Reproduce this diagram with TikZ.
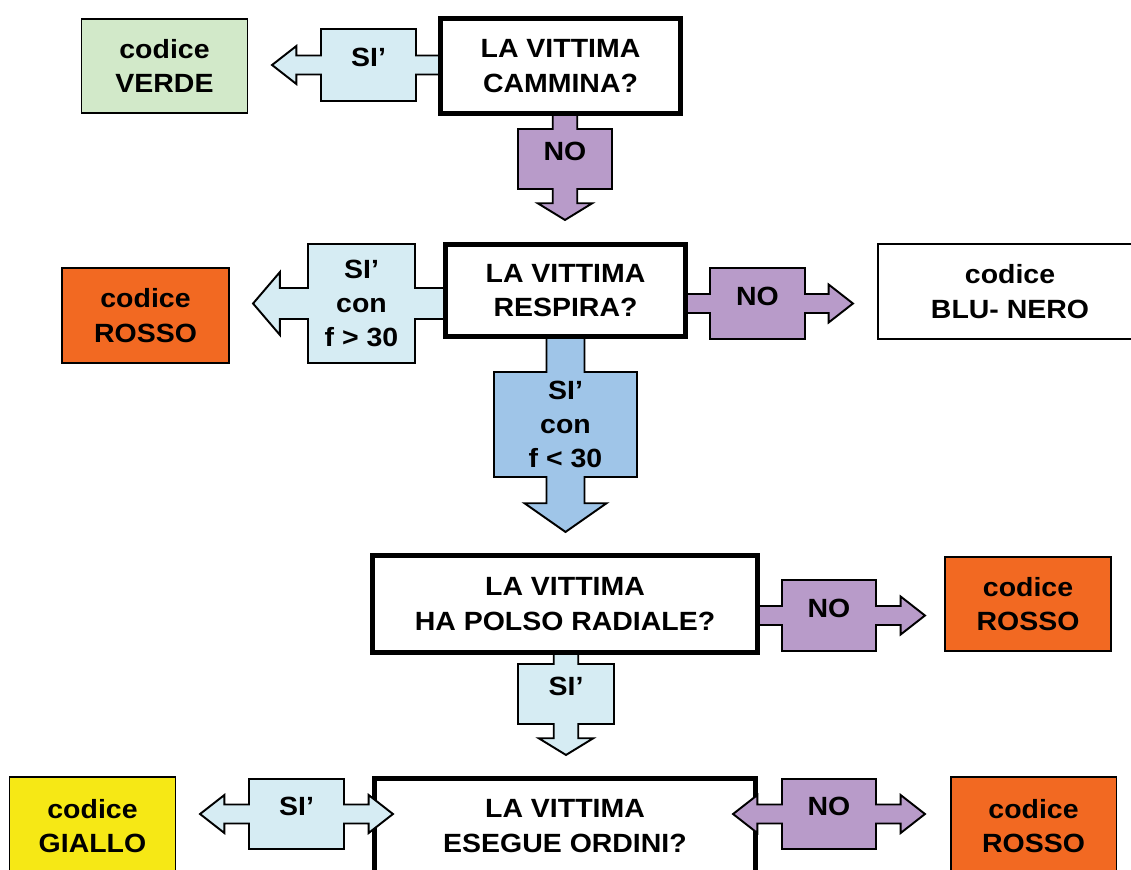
\documentclass[tikz,border=0pt]{standalone}
\usepackage{fontspec}
\setmainfont{Liberation Sans}[FakeStretch=1.08]
\usetikzlibrary{shapes.arrows}

\definecolor{siblue}{HTML}{D6ECF3}
\definecolor{nopurple}{HTML}{B89BC9}
\definecolor{midblue}{HTML}{9FC5E8}
\definecolor{codegreen}{HTML}{D2E9C9}
\definecolor{codered}{HTML}{F26922}
\definecolor{codeyellow}{HTML}{F6E815}

\tikzset{
  question/.style={draw, line width=2.85pt, fill=white, inner sep=0pt, align=center,
    minimum width=4.8cm, minimum height=1.9cm},
  code/.style={draw, line width=1.1pt, inner sep=0pt, align=center,
    minimum width=3.32cm, minimum height=1.88cm},
  answer/.style={arrow box, draw, line width=1.1pt, inner sep=0pt, align=center},
  lift/.style={text depth=0.3cm},
  slim/.style={arrow box shaft width=0.38cm, arrow box head extend=0.19cm, arrow box tip angle=76},
  stubby/.style={arrow box shaft width=0.49cm, arrow box head extend=0.3cm, arrow box tip angle=117},
}

\begin{document}
\begin{tikzpicture}[x=0.02cm, y=-0.02cm, every node/.style={font=\bfseries\fontsize{15}{19.5}\selectfont}]
  \path[use as bounding box, clip] (0, 0) rectangle (1131, 869);

  \node[code, fill=codegreen] (verde) at (164.5, 66) {codice\\VERDE};
  \node[code, fill=codered, minimum width=3.34cm, minimum height=1.9cm] (rosso1) at (145.5, 315.5) {codice\\ROSSO};
  \node[code, fill=white, minimum width=5.28cm, minimum height=1.9cm] (blunero) at (1010, 291.5) {codice\\BLU- NERO};
  \node[code, fill=codered] (rosso2) at (1028, 604) {codice\\ROSSO};
  \node[code, fill=codeyellow, minimum height=1.96cm] (giallo) at (92.5, 826) {codice\\GIALLO};
  \node[code, fill=codered, minimum height=1.96cm] (rosso3) at (1033.5, 826) {codice\\ROSSO};

  \node[answer, slim, lift, fill=siblue, minimum width=1.9cm, minimum height=1.44cm,
    arrow box arrows={west:0.96cm, east:1.06cm}] (si1) at (368.5, 65) {SI’};
  \node[answer, stubby, lift, fill=nopurple, minimum width=1.88cm, minimum height=1.2cm,
    arrow box arrows={south:0.6cm, north:0.96cm}] (no1) at (565, 159) {NO};
  \node[answer, fill=siblue, minimum width=2.14cm, minimum height=2.38cm,
    arrow box shaft width=0.62cm, arrow box head extend=0.32cm, arrow box tip angle=99,
    arrow box arrows={west:1.08cm, east:1.68cm}] (si2) at (361.5, 303.5) {SI’\\con\\f > 30};
  \node[answer, slim, lift, fill=nopurple, minimum width=1.9cm, minimum height=1.42cm,
    arrow box arrows={east:0.94cm, west:1.38cm}] (no2) at (757.5, 303.5) {NO};
  \node[answer, fill=midblue, minimum width=2.86cm, minimum height=2.1cm,
    arrow box shaft width=0.76cm, arrow box head extend=0.44cm, arrow box tip angle=110,
    arrow box arrows={south:1.08cm, north:1.62cm}] (si3) at (565.5, 424.5) {SI’\\con\\f < 30};
  \node[answer, stubby, lift, fill=siblue, minimum width=1.92cm, minimum height=1.2cm,
    arrow box arrows={south:0.6cm, north:1.06cm}] (si4) at (566, 694) {SI’};
  \node[answer, slim, lift, fill=nopurple, minimum width=1.88cm, minimum height=1.42cm,
    arrow box arrows={east:0.96cm, west:1.22cm}] (no3) at (829, 615.5) {NO};

  \node[question] (cammina) at (560.5, 66) {LA VITTIMA\\CAMMINA?};
  \node[question, minimum height=1.84cm] (respira) at (565.5, 290.5) {LA VITTIMA\\RESPIRA?};
  \node[question, minimum width=7.7cm, minimum height=1.94cm] (polso) at (565, 604) {LA VITTIMA\\HA POLSO RADIALE?};
  \node[question, minimum width=7.62cm] (ordini) at (565, 826) {LA VITTIMA\\ESEGUE ORDINI?};

  \node[answer, slim, lift, fill=siblue, minimum width=1.9cm, minimum height=1.4cm,
    arrow box arrows={west:0.96cm, east:0.96cm}] (si5) at (296.5, 814) {SI’};
  \node[answer, slim, lift, fill=nopurple, minimum width=1.88cm, minimum height=1.4cm,
    arrow box arrows={west:0.96cm, east:0.96cm}] (no4) at (829, 814) {NO};
\end{tikzpicture}
\end{document}
